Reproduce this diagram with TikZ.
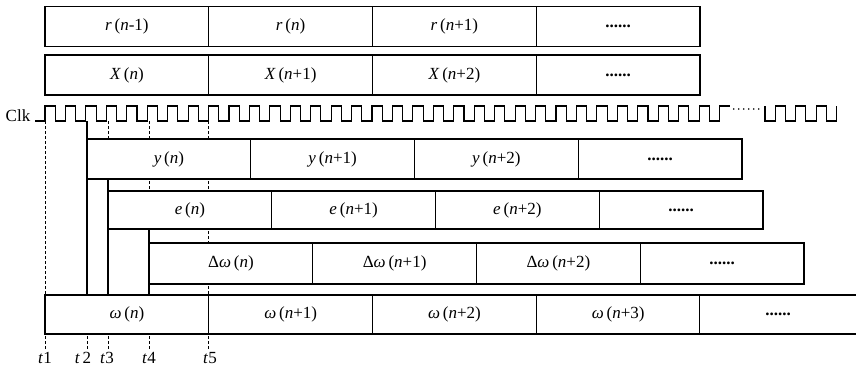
\documentclass[tikz,border=0pt]{standalone}
\usepackage{fontspec}
\setmainfont{Liberation Serif}
\usepackage{tikz}
\usetikzlibrary{positioning, backgrounds}

\newcommand{\sigv}[2]{#1\,(\textit{n}#2)}

\begin{document}
\begin{tikzpicture}[
        x=1pt, y=-1pt,
        node distance=0pt,
        font=\fontsize{17}{20}\selectfont,
        cell/.style={
            rectangle,
            draw=black,
            fill=white,
            line width=1.1pt,
            minimum width=163.75pt,
            minimum height=40pt,
            inner sep=0pt,
            outer sep=0pt
        },
        wall/.style={
            line width=1.1pt
        },
        tick/.style={
            line width=0.8pt,
            dash pattern=on 3pt off 2pt
        }
    ]
        \useasboundingbox (0,0) rectangle (856,370);

        % Nodes
        \node[cell] (r1) at (126.875,26.5) {\sigv{\textit{r}}{-1}};
        \node[cell, right=of r1] (r2) {\sigv{\textit{r}}{}};
        \node[cell, right=of r2] (r3) {\sigv{\textit{r}}{+1}};
        \node[cell, right=of r3] (r4) {\textbf{......}};

        \node[cell] (x1) at (126.875,75) {\sigv{\textit{X}}{}};
        \node[cell, right=of x1] (x2) {\sigv{\textit{X}}{+1}};
        \node[cell, right=of x2] (x3) {\sigv{\textit{X}}{+2}};
        \node[cell, right=of x3] (x4) {\textbf{......}};

        \node[cell] (y1) at (168.875,159) {\sigv{\textit{y}}{}};
        \node[cell, right=of y1] (y2) {\sigv{\textit{y}}{+1}};
        \node[cell, right=of y2] (y3) {\sigv{\textit{y}}{+2}};
        \node[cell, right=of y3] (y4) {\textbf{......}};

        \node[cell, minimum height=38pt] (e1) at (189.875,210) {\sigv{\textit{e}}{}};
        \node[cell, minimum height=38pt, right=of e1] (e2) {\sigv{\textit{e}}{+1}};
        \node[cell, minimum height=38pt, right=of e2] (e3) {\sigv{\textit{e}}{+2}};
        \node[cell, minimum height=38pt, right=of e3] (e4) {\textbf{......}};

        \node[cell, minimum height=41pt] (d1) at (230.875,263.5) {\sigv{Δ\textit{ω}}{}};
        \node[cell, minimum height=41pt, right=of d1] (d2) {\sigv{Δ\textit{ω}}{+1}};
        \node[cell, minimum height=41pt, right=of d2] (d3) {\sigv{Δ\textit{ω}}{+2}};
        \node[cell, minimum height=41pt, right=of d3] (d4) {\textbf{......}};

        \node[cell, minimum height=39pt] (w1) at (126.875,314.5) {\sigv{\textit{ω}}{}};
        \node[cell, minimum height=39pt, right=of w1] (w2) {\sigv{\textit{ω}}{+1}};
        \node[cell, minimum height=39pt, right=of w2] (w3) {\sigv{\textit{ω}}{+2}};
        \node[cell, minimum height=39pt, right=of w3] (w4) {\sigv{\textit{ω}}{+3}};
        \node[cell, minimum height=39pt, minimum width=156pt, draw=none, right=of w4] (w5) {\textbf{......}};
        \draw[wall] (w5.north west) -- (w5.north east);
        \draw[wall] (w5.south west) -- (w5.south east);

        % Clock
        \node (clk) at (18,116) {Clk};
        \coordinate (c0) at (35,121);
        \coordinate (c1) at (729.7,106);
        \coordinate (c2) at (765,106);
        \draw[wall] (c0) -- ++(10,0)
            \foreach \k in {0,...,32}{ -- ++(0,-15) -- ++(10.22,0) -- ++(0,15) -- ++(10.22,0) }
            -- ++(0,-15) -- (c1);
        \draw[line width=1.6pt, line cap=round, dash pattern=on 0pt off 5pt]
            ([xshift=4pt,yshift=-3pt]c1) -- ([xshift=-2pt,yshift=-3pt]c2);
        \draw[wall] (c2) -- ++(0,15) -- ++(10.22,0)
            \foreach \k in {1,2,3}{ -- ++(0,-15) -- ++(10.22,0) -- ++(0,15) -- ++(10.22,0) }
            -- ++(0,-15);

        % Time marks
        \coordinate (k1) at (45,121);
        \coordinate (k2) at (87,121);
        \coordinate (k3) at (108,121);
        \coordinate (k4) at (149,121);
        \coordinate (k5) at (208.75,121);
        \node (t1) at (45,358) {\textit{t}1};
        \node (t2) at (83,358) {\textit{t}\,2};
        \node (t3) at (107,358) {\textit{t}3};
        \node (t4) at (149,358) {\textit{t}4};
        \node (t5) at (210,358) {\textit{t}5};

        \begin{scope}[on background layer]
            \draw[tick] (k1) -- (k1 |- t1.north);
            \draw[tick] (k2) -- (k2 |- t2.north);
            \draw[tick] (k3) -- (k3 |- t3.north);
            \draw[tick] (k4) -- (k4 |- t4.north);
            \draw[tick] (k5) -- (k5 |- t5.north);
            \draw[wall] (k2) -- (k2 |- w1.north);
            \draw[wall] (k3 |- y1.south) -- (k3 |- w1.north);
            \draw[wall] (k4 |- e1.south) -- (k4 |- w1.north);
        \end{scope}
    \end{tikzpicture}
\end{document}
